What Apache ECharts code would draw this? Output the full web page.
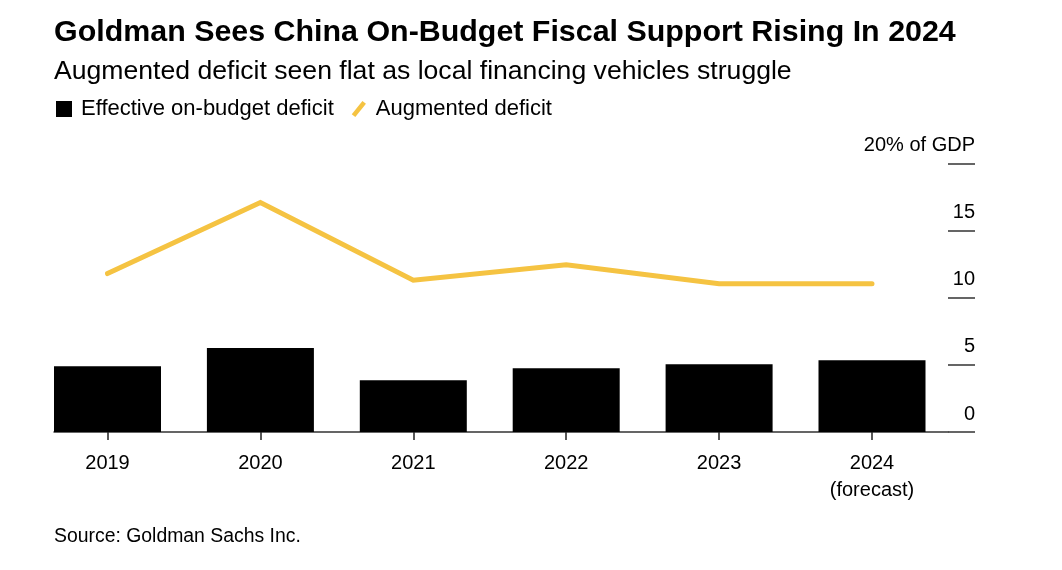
<!DOCTYPE html>
<html>
<head>
<meta charset="utf-8">
<script src="https://cdn.jsdelivr.net/npm/echarts@6/dist/echarts.min.js"></script>
<style>
html,body{margin:0;padding:0;background:#fff;}
#chart{width:1062px;height:570px;}
</style>
</head>
<body>
<div id="chart"></div>
<script>
var categories = ['2019', '2020', '2021', '2022', '2023', '2024\n(forecast)'];
var onBudget = [4.9, 6.25, 3.85, 4.75, 5.05, 5.35];
var augmented = [11.8, 17.1, 11.3, 12.45, 11.05, 11.05];
var yTicks = [0, 5, 10, 15, 20];

var FONT = '"Liberation Sans", Helvetica, Arial, sans-serif';
var YELLOW = '#F5C342';
var chart = echarts.init(document.getElementById('chart'), null, {renderer: 'canvas'});

var gridTop = 163.5, gridBottom = 138;

chart.setOption({
  backgroundColor: '#fff',
  animation: false,
  textStyle: {fontFamily: FONT},
  title: [
    {text: 'Goldman Sees China On-Budget Fiscal Support Rising In 2024', left: 54, top: 18, padding: 0,
     textStyle: {fontFamily: FONT, fontWeight: 'bold', fontSize: 30.4, color: '#000'}},
    {text: 'Augmented deficit seen flat as local financing vehicles struggle', left: 54, top: 58, padding: 0,
     textStyle: {fontFamily: FONT, fontWeight: 'normal', fontSize: 26.6, color: '#000'}},
    {text: 'Source: Goldman Sachs Inc.', left: 54, top: 527, padding: 0,
     textStyle: {fontFamily: FONT, fontWeight: 'normal', fontSize: 19.4, color: '#000'}}
  ],
  legend: {
    left: 56, top: 98, padding: 0, itemWidth: 16, itemHeight: 16, itemGap: 18,
    textStyle: {fontFamily: FONT, fontSize: 22, color: '#000', padding: [0, 0, 0, 4]},
    data: [
      {name: 'Effective on-budget deficit', icon: 'rect', itemStyle: {color: '#000'}},
      {name: 'Augmented deficit', icon: 'path://M0,15 L12,0 L16,3 L4,18 Z', itemStyle: {color: YELLOW}}
    ]
  },
  grid: [
    {left: 107.5, right: 190, top: gridTop, bottom: gridBottom},
    {left: 54, right: 114, top: gridTop, bottom: gridBottom}
  ],
  xAxis: [
    {type: 'category', gridIndex: 0, data: categories, boundaryGap: false,
     axisLine: {show: false},
     axisTick: {show: true, length: 8, lineStyle: {color: '#222', width: 1.5}},
     axisLabel: {color: '#000', fontSize: 20, margin: 18, lineHeight: 27, fontFamily: FONT},
     splitLine: {show: false}},
    {type: 'value', gridIndex: 1, min: 0, max: 1, show: true,
     axisLine: {show: true, onZero: false, lineStyle: {color: '#333', width: 1.5}},
     axisTick: {show: false}, axisLabel: {show: false}, splitLine: {show: false}}
  ],
  yAxis: [
    {type: 'value', gridIndex: 0, min: 0, max: 20, interval: 5, show: false},
    {type: 'value', gridIndex: 1, position: 'right', min: 0, max: 20, interval: 5,
     axisLine: {show: false, onZero: false},
     axisTick: {show: true, inside: false, length: 27, lineStyle: {color: '#333', width: 1.5}},
     splitLine: {show: false},
     axisLabel: {inside: false, margin: 27, align: 'right', color: '#000', fontSize: 20, fontFamily: FONT,
       verticalAlign: 'bottom', padding: [0, 0, 8, 0],
       formatter: function (v) { return v === 20 ? '20% of GDP' : String(v); }}}
  ],
  series: [
    {name: 'Effective on-budget deficit', type: 'bar', xAxisIndex: 0, yAxisIndex: 0,
     data: onBudget, barWidth: 107, itemStyle: {color: '#000'}, z: 1},
    {name: 'Augmented deficit', type: 'line', xAxisIndex: 0, yAxisIndex: 0,
     data: augmented, symbol: 'none', lineStyle: {color: YELLOW, width: 5, cap: 'round', join: 'miter'},
     itemStyle: {color: YELLOW}, z: 3}
  ]
});
</script>
</body>
</html>
